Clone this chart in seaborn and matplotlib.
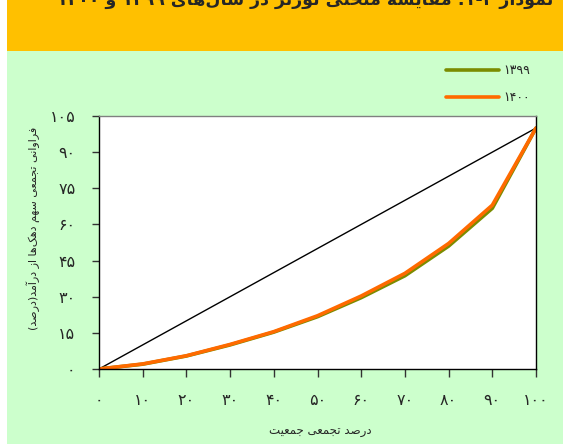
import re
import pandas as pd
import matplotlib
matplotlib.use("Agg")
import matplotlib.pyplot as plt
import seaborn as sns
from matplotlib.patches import Rectangle

# data (cumulative % of population vs % of income)
deciles = [0, 10, 20, 30, 40, 50, 60, 70, 80, 90, 100]
share_1399 = [0, 2.0, 5.4, 10.0, 15.3, 21.7, 29.6, 38.7, 51.0, 66.7, 100]
share_1400 = [0, 2.1, 5.5, 10.2, 15.5, 22.1, 30.3, 39.7, 52.1, 68.0, 100]
years = ['۱۳۹۹', '۱۴۰۰']
year_colors = ['#7B8C00', '#FF6A00']
xtick_vals = [0, 10, 20, 30, 40, 50, 60, 70, 80, 90, 100]
xtick_labels = ['۰', '۱۰', '۲۰', '۳۰', '۴۰', '۵۰', '۶۰', '۷۰', '۸۰', '۹۰', '۱۰۰']
ytick_vals = [0, 15, 30, 45, 60, 75, 90, 105]
ytick_labels = ['۰', '۱۵', '۳۰', '۴۵', '۶۰', '۷۵', '۹۰', '۱۰۵']

title = 'نمودار ۳-۱: مقایسه منحنی لورنز در سال‌های ۱۳۹۹ و ۱۴۰۰'
xlabel = 'درصد تجمعی جمعیت'
ylabel = 'فراوانی تجمعی سهم دهک‌ها از درآمد(درصد)'

# matplotlib has no arabic shaping, so do it by hand with presentation forms
# (isolated, final, initial, medial)
FORMS = {
    'ا': ('\uFE8D', '\uFE8E', None, None),
    'آ': ('\uFE81', '\uFE82', None, None),
    'ب': ('\uFE8F', '\uFE90', '\uFE91', '\uFE92'),
    'ت': ('\uFE95', '\uFE96', '\uFE97', '\uFE98'),
    'ج': ('\uFE9D', '\uFE9E', '\uFE9F', '\uFEA0'),
    'ح': ('\uFEA1', '\uFEA2', '\uFEA3', '\uFEA4'),
    'د': ('\uFEA9', '\uFEAA', None, None),
    'ر': ('\uFEAD', '\uFEAE', None, None),
    'ز': ('\uFEAF', '\uFEB0', None, None),
    'س': ('\uFEB1', '\uFEB2', '\uFEB3', '\uFEB4'),
    'ص': ('\uFEB9', '\uFEBA', '\uFEBB', '\uFEBC'),
    'ع': ('\uFEC9', '\uFECA', '\uFECB', '\uFECC'),
    'ف': ('\uFED1', '\uFED2', '\uFED3', '\uFED4'),
    'ق': ('\uFED5', '\uFED6', '\uFED7', '\uFED8'),
    'ل': ('\uFEDD', '\uFEDE', '\uFEDF', '\uFEE0'),
    'م': ('\uFEE1', '\uFEE2', '\uFEE3', '\uFEE4'),
    'ن': ('\uFEE5', '\uFEE6', '\uFEE7', '\uFEE8'),
    'ه': ('\uFEE9', '\uFEEA', '\uFEEB', '\uFEEC'),
    'و': ('\uFEED', '\uFEEE', None, None),
    'ی': ('\uFBFC', '\uFBFD', '\uFBFE', '\uFBFF'),
    'ک': ('\uFB8E', '\uFB8F', '\uFB90', '\uFB91'),
}


def fa(text):
    out = []
    for i, c in enumerate(text):
        if c not in FORMS:
            out.append(c)
            continue
        prev = text[i - 1] if i > 0 else ''
        nxt = text[i + 1] if i + 1 < len(text) else ''
        join_prev = prev in FORMS and FORMS[prev][2] is not None
        join_next = nxt in FORMS and FORMS[c][2] is not None
        iso, fin, ini, med = FORMS[c]
        if join_prev and join_next:
            out.append(med)
        elif join_prev:
            out.append(fin)
        elif join_next:
            out.append(ini)
        else:
            out.append(iso)
    s = ''.join(out).replace('\u200c', '')[::-1]
    s = re.sub('[۰-۹]+', lambda m: m.group(0)[::-1], s)
    return s.translate(str.maketrans('()', ')('))


df = pd.DataFrame({
    'x': deciles * 2,
    'y': share_1399 + share_1400,
    'year': [years[0]] * len(deciles) + [years[1]] * len(deciles),
})

sns.set_style('white')
plt.rcParams['font.family'] = ['DejaVu Sans']

fig = plt.figure(figsize=(5.63, 4.44), dpi=100, facecolor='#CCFFCC')
# orange title band and white strip on the left
fig.patches.append(Rectangle((0, 1 - 51 / 444), 1, 51 / 444, transform=fig.transFigure,
                             facecolor='#FFC000', edgecolor='none', zorder=0))
fig.patches.append(Rectangle((0, 0), 7 / 563, 1, transform=fig.transFigure,
                             facecolor='white', edgecolor='none', zorder=1))

ax = fig.add_axes([99 / 563, 75 / 444, 437 / 563, 253 / 444])
ax.set_facecolor('white')

# line of equality
ax.plot(deciles, deciles, color='black', lw=1)
sns.lineplot(data=df, x='x', y='y', hue='year', palette=year_colors, lw=2.6, ax=ax)

ax.set_xlim(0, 100)
ax.set_ylim(0, 105)
ax.set_xticks(xtick_vals)
ax.set_xticklabels(xtick_labels, fontsize=11.5)
ax.set_yticks(ytick_vals)
ax.set_yticklabels(ytick_labels, fontsize=11.5)
ax.tick_params(axis='x', direction='out', length=6, width=1, color='#333333', pad=11, bottom=True)
ax.tick_params(axis='y', direction='out', length=5, width=1, color='#333333', pad=12, left=True)
ax.set_xlabel('')
ax.set_ylabel('')
for side in ['left', 'bottom', 'right']:
    ax.spines[side].set_color('black')
    ax.spines[side].set_linewidth(1)
ax.spines['top'].set_color('#808080')
ax.spines['top'].set_linewidth(1)

ax.legend(loc='upper left', bbox_to_anchor=(440 / 563, 1 - 58 / 444),
          bbox_transform=fig.transFigure, frameon=False, fontsize=9,
          handlelength=4.2, handletextpad=0.4, labelspacing=1.1, borderpad=0)

fig.text(320 / 563, 1 - 431 / 444, fa(xlabel), ha='center', va='center', fontsize=8.5)
fig.text(33 / 563, 1 - 228 / 444, fa(ylabel), ha='center', va='center', rotation=90, fontsize=8)
# title band: only the lower part of the title shows, as in the reference
fig.text(553 / 563, 1 - 9 / 444, fa(title), ha='right', va='bottom', fontsize=12.5,
         fontweight='bold')

fig.savefig('out.png', dpi=100, facecolor=fig.get_facecolor())
